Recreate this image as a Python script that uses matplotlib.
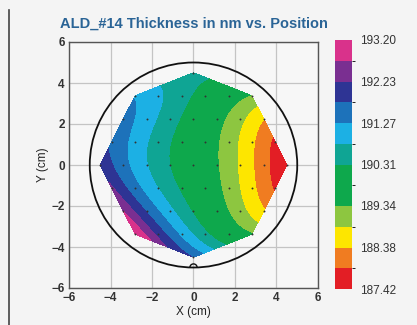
import numpy as np
import matplotlib
matplotlib.use("Agg")
import matplotlib.pyplot as plt
import matplotlib.tri as mtri
from matplotlib.colors import ListedColormap, BoundaryNorm
from matplotlib.patches import Circle, Arc
from matplotlib.lines import Line2D

plt.rcParams['font.family'] = ['Liberation Sans', 'DejaVu Sans']

# measurement sites (cm) and film thickness (nm), row by row from top
x_cm = [0.0,
        -2.81, -1.69, -0.56, 0.56, 1.69, 2.81,
        -3.38, -2.25, -1.13, 0.0, 1.13, 2.25, 3.38,
        -3.94, -2.81, -1.69, -0.56, 0.56, 1.69, 2.81, 3.94,
        -4.5, -3.38, -2.25, -1.13, 0.0, 1.13, 2.25, 3.38, 4.5,
        -3.94, -2.81, -1.69, -0.56, 0.56, 1.69, 2.81, 3.94,
        -3.38, -2.25, -1.13, 0.0, 1.13, 2.25, 3.38,
        -2.81, -1.69, -0.56, 0.56, 1.69, 2.81,
        0.0]
y_cm = [4.5,
        3.38, 3.38, 3.38, 3.38, 3.38, 3.38,
        2.25, 2.25, 2.25, 2.25, 2.25, 2.25, 2.25,
        1.13, 1.13, 1.13, 1.13, 1.13, 1.13, 1.13, 1.13,
        0.0, 0.0, 0.0, 0.0, 0.0, 0.0, 0.0, 0.0, 0.0,
        -1.13, -1.13, -1.13, -1.13, -1.13, -1.13, -1.13, -1.13,
        -2.25, -2.25, -2.25, -2.25, -2.25, -2.25, -2.25,
        -3.38, -3.38, -3.38, -3.38, -3.38, -3.38,
        -4.5]
thickness_nm = [190.42,
                191.22, 190.96, 190.49, 190.04, 189.69, 189.34,
                191.40, 190.97, 190.43, 189.95, 189.52, 189.08, 188.25,
                191.72, 191.15, 190.66, 190.09, 189.64, 189.13, 188.48, 187.85,
                192.15, 191.41, 190.81, 190.33, 189.88, 189.42, 188.71, 188.07, 187.42,
                192.25, 191.36, 190.74, 190.21, 189.72, 189.16, 188.48, 187.80,
                192.76, 191.87, 190.87, 190.22, 189.70, 189.10, 188.45,
                193.20, 192.06, 191.17, 190.34, 189.85, 189.38,
                191.75]

cbar_labels = ['187.42', '188.38', '189.34', '190.31', '191.27', '192.23', '193.20']
band_colors = ['#e31e25', '#f07c21', '#fde600', '#8dc640', '#0ea84c', '#0ea84c',
               '#0fa594', '#1cb0e4', '#1d72ba', '#2e3494', '#7a2f91', '#d9328b']

x = np.array(x_cm)
y = np.array(y_cm)
z = np.array(thickness_nm)
levels = np.linspace(z.min(), z.max(), len(band_colors) + 1)

fig = plt.figure(figsize=(4.17, 3.25), dpi=100, facecolor='#f4f4f4')
ax = fig.add_axes([69/417, 37/325, 249/417, 246/325], facecolor='#f7f7f7')

# smooth surface (least-squares polynomial) over the measured area
tri = mtri.Triangulation(x, y)
tri_f = mtri.UniformTriRefiner(tri).refine_triangulation(subdiv=5)

def terms(u, v, deg=5):
    return np.column_stack([u**i * v**j for i in range(deg + 1) for j in range(deg + 1 - i)])

coef, *_ = np.linalg.lstsq(terms(x, y), z, rcond=None)
z_f = terms(tri_f.x, tri_f.y) @ coef
z_f = np.clip(z_f, levels[0] + 1e-6, levels[-1] - 1e-6)

cmap = ListedColormap(band_colors)
norm = BoundaryNorm(levels, cmap.N)
cs = ax.tricontourf(tri_f, z_f, levels=levels, cmap=cmap, norm=norm, zorder=2)
ax.plot(x, y, 'o', ms=1.4, color='#333333', mec='none', zorder=3)

# wafer outline with notch
ax.add_patch(Circle((0, 0), 5, fill=False, ec='#111111', lw=1.3, zorder=4))
ax.add_patch(Arc((0, -5), 0.35, 0.35, theta1=0, theta2=180, ec='#111111', lw=1.0, zorder=4))

ax.set_xlim(-6, 6)
ax.set_ylim(-6, 6)
ax.set_xticks(np.arange(-6, 7, 2))
ax.set_yticks(np.arange(-6, 7, 2))
ax.grid(True, color='#c4c4c4', lw=0.9, zorder=1)
ax.set_axisbelow(True)
for s in ax.spines.values():
    s.set_color('#555555')
    s.set_linewidth(1.0)
ax.tick_params(length=0, pad=3, labelsize=8.5, labelcolor='#333333')
for lab in ax.get_xticklabels() + ax.get_yticklabels():
    lab.set_fontweight('bold')
ax.set_xlabel('X (cm)', fontsize=8.5, color='#222222', labelpad=1)
ax.set_ylabel('Y (cm)', fontsize=8.5, color='#222222', labelpad=2)

fig.text(194/417, 1 - 24/325, 'ALD_#14 Thickness in nm vs. Position', ha='center', va='center',
         fontsize=10.5, fontweight='bold', color='#2a6496')

cax = fig.add_axes([335/417, 36/325, 17/417, 249/325])
cb = fig.colorbar(cs, cax=cax, ticks=levels[::2])
cb.set_ticklabels(cbar_labels)
cb.outline.set_visible(False)
cax.tick_params(length=0, pad=6, labelsize=8.5, labelcolor='#333333')

fig.add_artist(Line2D([9/417, 9/417], [0, 1 - 10/325], color='#444444', lw=1.2))

fig.savefig('out.png', dpi=100, facecolor=fig.get_facecolor())
